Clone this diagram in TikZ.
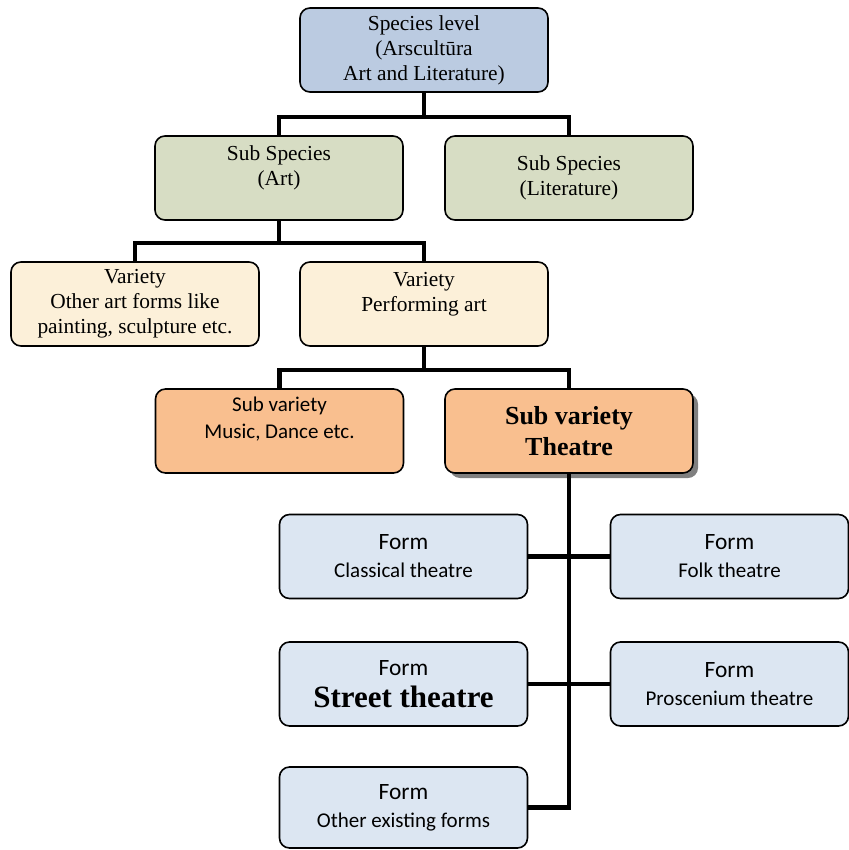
\documentclass[tikz,border=0pt]{standalone}
\usepackage{fontspec}
\setmainfont{Liberation Serif}
\newfontfamily\calibri{Carlito}
\usetikzlibrary{shadows}
\definecolor{speciesblue}{RGB}{187,203,225}
\definecolor{subgreen}{RGB}{215,221,196}
\definecolor{varcream}{RGB}{252,240,217}
\definecolor{suborange}{RGB}{249,191,143}
\definecolor{formblue}{RGB}{220,230,242}
\tikzset{
  box/.style={draw, line width=0.8pt, rounded corners=5pt, align=center,
    inner sep=2pt, minimum width=124pt, minimum height=42pt,
    font=\fontsize{10.7}{12.5}\selectfont},
  species/.style={box, fill=speciesblue},
  subspecies/.style={box, fill=subgreen},
  variety/.style={box, fill=varcream},
  subvar/.style={box, fill=suborange, font=\calibri\fontsize{10.5}{13.5}\selectfont},
  form/.style={box, fill=formblue, font=\calibri\fontsize{10.5}{14}\selectfont},
  link/.style={line width=2.4pt, line join=miter}
}
\newcommand{\formtitle}{{\fontsize{11.7}{14}\selectfont Form}}

\begin{document}
\begin{tikzpicture}[x=0.5pt, y=-0.5pt]
  \useasboundingbox (0,0) rectangle (849,850);

  % Species and sub species
  \node[species] (species) at (424,50) {Species level\\(Arscult\=ura\\Art and Literature)};
  \node[subspecies] (art) at (279,178) {Sub Species\\(Art)\\\mbox{}};
  \node[subspecies] (lit) at (569,178) {Sub Species\\(Literature)};

  % Varieties
  \node[variety] (other) at (135,304) {Variety\\Other art forms like\\painting, sculpture etc.};
  \node[variety] (perf) at (424,304) {Variety\\Performing art\\\mbox{}};

  % Sub varieties
  \node[subvar] (music) at (279.5,431) {Sub variety\\Music, Dance etc.\\\mbox{}};
  \node[subvar, font=\bfseries\fontsize{13}{15.5}\selectfont,
    drop shadow={shadow xshift=2.5pt, shadow yshift=-2.5pt, fill=black!50, opacity=1}]
    (theatre) at (569,431) {Sub variety\\Theatre};

  % Forms
  \node[form] (classical) at (403.5,556.5) {\formtitle\\Classical theatre};
  \node[form, minimum width=119pt] (folk) at (729.5,556.5) {\formtitle\\Folk theatre};
  \node[form] (street) at (403.5,684) {\formtitle\\[2pt]{\rmfamily\bfseries\fontsize{15.5}{18}\selectfont Street theatre}};
  \node[form, minimum width=119pt] (prosc) at (729.5,684) {\formtitle\\Proscenium theatre};
  \node[form, minimum height=40.5pt] (otherform) at (403.5,807.5) {\formtitle\\Other existing forms};

  % Connectors
  \coordinate (j1) at (424,117);
  \coordinate (j2) at (279,243);
  \coordinate (j3) at (424,370);
  \coordinate (trunk) at (theatre.south |- otherform.east);

  \draw[link] (species.south) -- (j1);
  \draw[link] (art.north) |- (j1) -| (lit.north);
  \draw[link] (art.south) -- (j2);
  \draw[link] (other.north) |- (j2) -| (perf.north);
  \draw[link] (perf.south) -- (j3);
  \draw[link] (music.north) |- (j3) -| (theatre.north);
  \draw[link] (theatre.south) -- (trunk) -- (otherform.east);
  \draw[link] (classical.east) -- (folk.west);
  \draw[link] (street.east) -- (prosc.west);
\end{tikzpicture}
\end{document}
